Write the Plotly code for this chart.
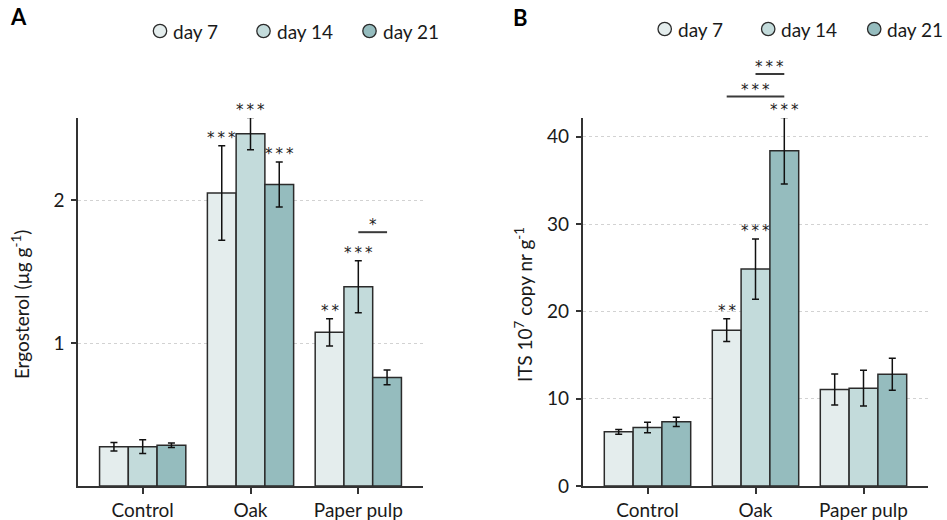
import plotly.graph_objects as go

W, H = 947, 520

categories = ["Control", "Oak", "Paper pulp"]
days = ["day 7", "day 14", "day 21"]
day_colors = ["#e4eded", "#c3dbdb", "#95bcbe"]

# Ergosterol (µg g-1), mean and error per substrate
ergo_day7 = [0.275, 2.05, 1.075]
ergo_day14 = [0.275, 2.465, 1.395]
ergo_day21 = [0.285, 2.11, 0.76]
ergo_err_day7 = [0.03, 0.33, 0.095]
ergo_err_day14 = [0.048, 0.113, 0.182]
ergo_err_day21 = [0.016, 0.157, 0.052]
ergo_sig_day7 = ["", "***", "**"]
ergo_sig_day14 = ["", "***", "***"]
ergo_sig_day21 = ["", "***", ""]

# ITS copy number (10^7 g-1), mean and error per substrate
its_day7 = [6.2, 17.85, 11.05]
its_day14 = [6.7, 24.85, 11.2]
its_day21 = [7.35, 38.4, 12.8]
its_err_day7 = [0.27, 1.3, 1.78]
its_err_day14 = [0.6, 3.45, 2.05]
its_err_day21 = [0.53, 3.8, 1.83]
its_sig_day7 = ["", "**", ""]
its_sig_day14 = ["", "***", ""]
its_sig_day21 = ["", "***", ""]

# pairwise comparisons: (category index, first day, second day, level, label)
ergo_pairs = [(2, 1, 2, 1.776, "*")]
its_pairs = [(1, 1, 2, 47.2, "***"), (1, 0, 2, 44.6, "***")]

ergo_range = [0, 2.575]
its_range = [0, 42.15]

panels = [
    dict(
        means=[ergo_day7, ergo_day14, ergo_day21],
        errs=[ergo_err_day7, ergo_err_day14, ergo_err_day21],
        sigs=[ergo_sig_day7, ergo_sig_day14, ergo_sig_day21],
        pairs=ergo_pairs, yrange=ergo_range, tickvals=[1, 2],
        title="Ergosterol (µg g<sup>-1</sup>)", letter="A",
        x0px=78.0, x1px=423.0, title_x=20, legend_y=31, letter_y=17, letter_x=18,
    ),
    dict(
        means=[its_day7, its_day14, its_day21],
        errs=[its_err_day7, its_err_day14, its_err_day21],
        sigs=[its_sig_day7, its_sig_day14, its_sig_day21],
        pairs=its_pairs, yrange=its_range, tickvals=[0, 10, 20, 30, 40],
        title="ITS 10<sup>7</sup> copy nr g<sup>-1</sup>", letter="B",
        x0px=582.7, x1px=928.3, title_x=523, legend_y=29, letter_y=18, letter_x=520,
    ),
]

ytop_px, ybot_px = 118.0, 486.0
ydom = [1 - ybot_px / H, 1 - ytop_px / H]

FONT = "Lato, 'Open Sans', sans-serif"
STAR_FONT = "DejaVu Sans, sans-serif"
TXT = "#1a1a1a"
AX = "#333333"


def stars(label):
    # spaced asterisks for significance levels
    return "\u2009".join(label)


fig = go.Figure()
shapes = []
annotations = []

n_days = len(days)
group_w = 0.8
bar_w = group_w / n_days
offsets = [(-1 + i) * bar_w for i in range(n_days)]

for p_i, p in enumerate(panels):
    sfx = "" if p_i == 0 else "2"
    xa, ya = "x" + sfx, "y" + sfx
    for d_i in range(n_days):
        fig.add_trace(go.Bar(
            x=list(range(len(categories))), y=p["means"][d_i],
            name=days[d_i], showlegend=False,
            marker=dict(color=day_colors[d_i], line=dict(color="#2b2b2b", width=1.5)),
            error_y=dict(type="data", array=p["errs"][d_i], color="#111111",
                         thickness=1.5, width=3.5),
            xaxis=xa, yaxis=ya, offsetgroup=str(d_i),
        ))
        # significance stars above each error bar
        for c_i, lab in enumerate(p["sigs"][d_i]):
            if not lab:
                continue
            top = p["means"][d_i][c_i] + p["errs"][d_i][c_i]
            annotations.append(dict(
                x=c_i + offsets[d_i], y=top / p["yrange"][1],
                xref=xa, yref=ya + " domain", text=stars(lab), showarrow=False,
                yanchor="middle", yshift=8,
                font=dict(family=STAR_FONT, size=15, color=TXT),
            ))
    # pairwise comparison brackets
    for c_i, da, db, lvl, lab in p["pairs"]:
        yy = lvl / p["yrange"][1]
        shapes.append(dict(
            type="line", xref=xa, yref=ya + " domain",
            x0=c_i + offsets[da], x1=c_i + offsets[db], y0=yy, y1=yy,
            line=dict(color="#3a3a3a", width=2),
        ))
        annotations.append(dict(
            x=c_i + (offsets[da] + offsets[db]) / 2, y=yy,
            xref=xa, yref=ya + " domain", text=stars(lab), showarrow=False,
            yanchor="middle", yshift=7,
            font=dict(family=STAR_FONT, size=15, color=TXT),
        ))

    xdom = [p["x0px"] / W, p["x1px"] / W]
    axis_common = dict(showline=True, linecolor=AX, linewidth=1.5, ticks="outside",
                       tickcolor=AX, tickwidth=1.5, automargin=False,
                       tickfont=dict(family=FONT, size=19, color=TXT))
    fig.update_layout(**{
        "xaxis" + sfx: dict(domain=xdom, anchor=ya, range=[-0.6, 2.6],
                            tickvals=list(range(len(categories))), ticktext=categories,
                            ticklen=6, showgrid=False, zeroline=False, **axis_common),
        "yaxis" + sfx: dict(domain=ydom, anchor=xa, range=p["yrange"],
                            tickvals=p["tickvals"], ticklen=5, ticklabelstandoff=3,
                            showgrid=True, gridcolor="#d2d2d2", gridwidth=1, griddash="dot",
                            zeroline=False, **axis_common),
    })

    # axis title
    annotations.append(dict(
        x=p["title_x"] / W, y=(ydom[0] + ydom[1]) / 2 - 0.006, xref="paper", yref="paper",
        text=p["title"], textangle=-90, showarrow=False,
        xanchor="center", yanchor="middle",
        font=dict(family=FONT, size=19, color=TXT),
    ))
    # panel letter
    annotations.append(dict(
        x=p["letter_x"] / W, y=1 - p["letter_y"] / H, xref="paper", yref="paper",
        text="<b>" + p["letter"] + "</b>", showarrow=False,
        xanchor="center", yanchor="middle",
        font=dict(family=FONT, size=22, color="#000000"),
    ))
    # legend: outlined circles with day labels
    legend_offsets = [82, 185.5, 291.5]
    for d_i in range(n_days):
        cx = (p["x0px"] + legend_offsets[d_i]) / W
        cy = 1 - p["legend_y"] / H
        shapes.append(dict(
            type="circle", xref="paper", yref="paper",
            xsizemode="pixel", ysizemode="pixel", xanchor=cx, yanchor=cy,
            x0=-6.7, x1=6.7, y0=-6.7, y1=6.7,
            fillcolor=day_colors[d_i], line=dict(color="#2b2b2b", width=1.3),
        ))
        annotations.append(dict(
            x=cx, y=cy, xref="paper", yref="paper", xshift=11,
            text=days[d_i], showarrow=False, xanchor="left", yanchor="middle",
            font=dict(family=FONT, size=19, color=TXT),
        ))

fig.update_layout(
    width=W, height=H,
    margin=dict(l=0, r=0, t=0, b=0),
    paper_bgcolor="white", plot_bgcolor="white",
    barmode="group", bargap=0.2, bargroupgap=0,
    shapes=shapes, annotations=annotations,
    showlegend=False,
)

fig.write_html("out.html")
